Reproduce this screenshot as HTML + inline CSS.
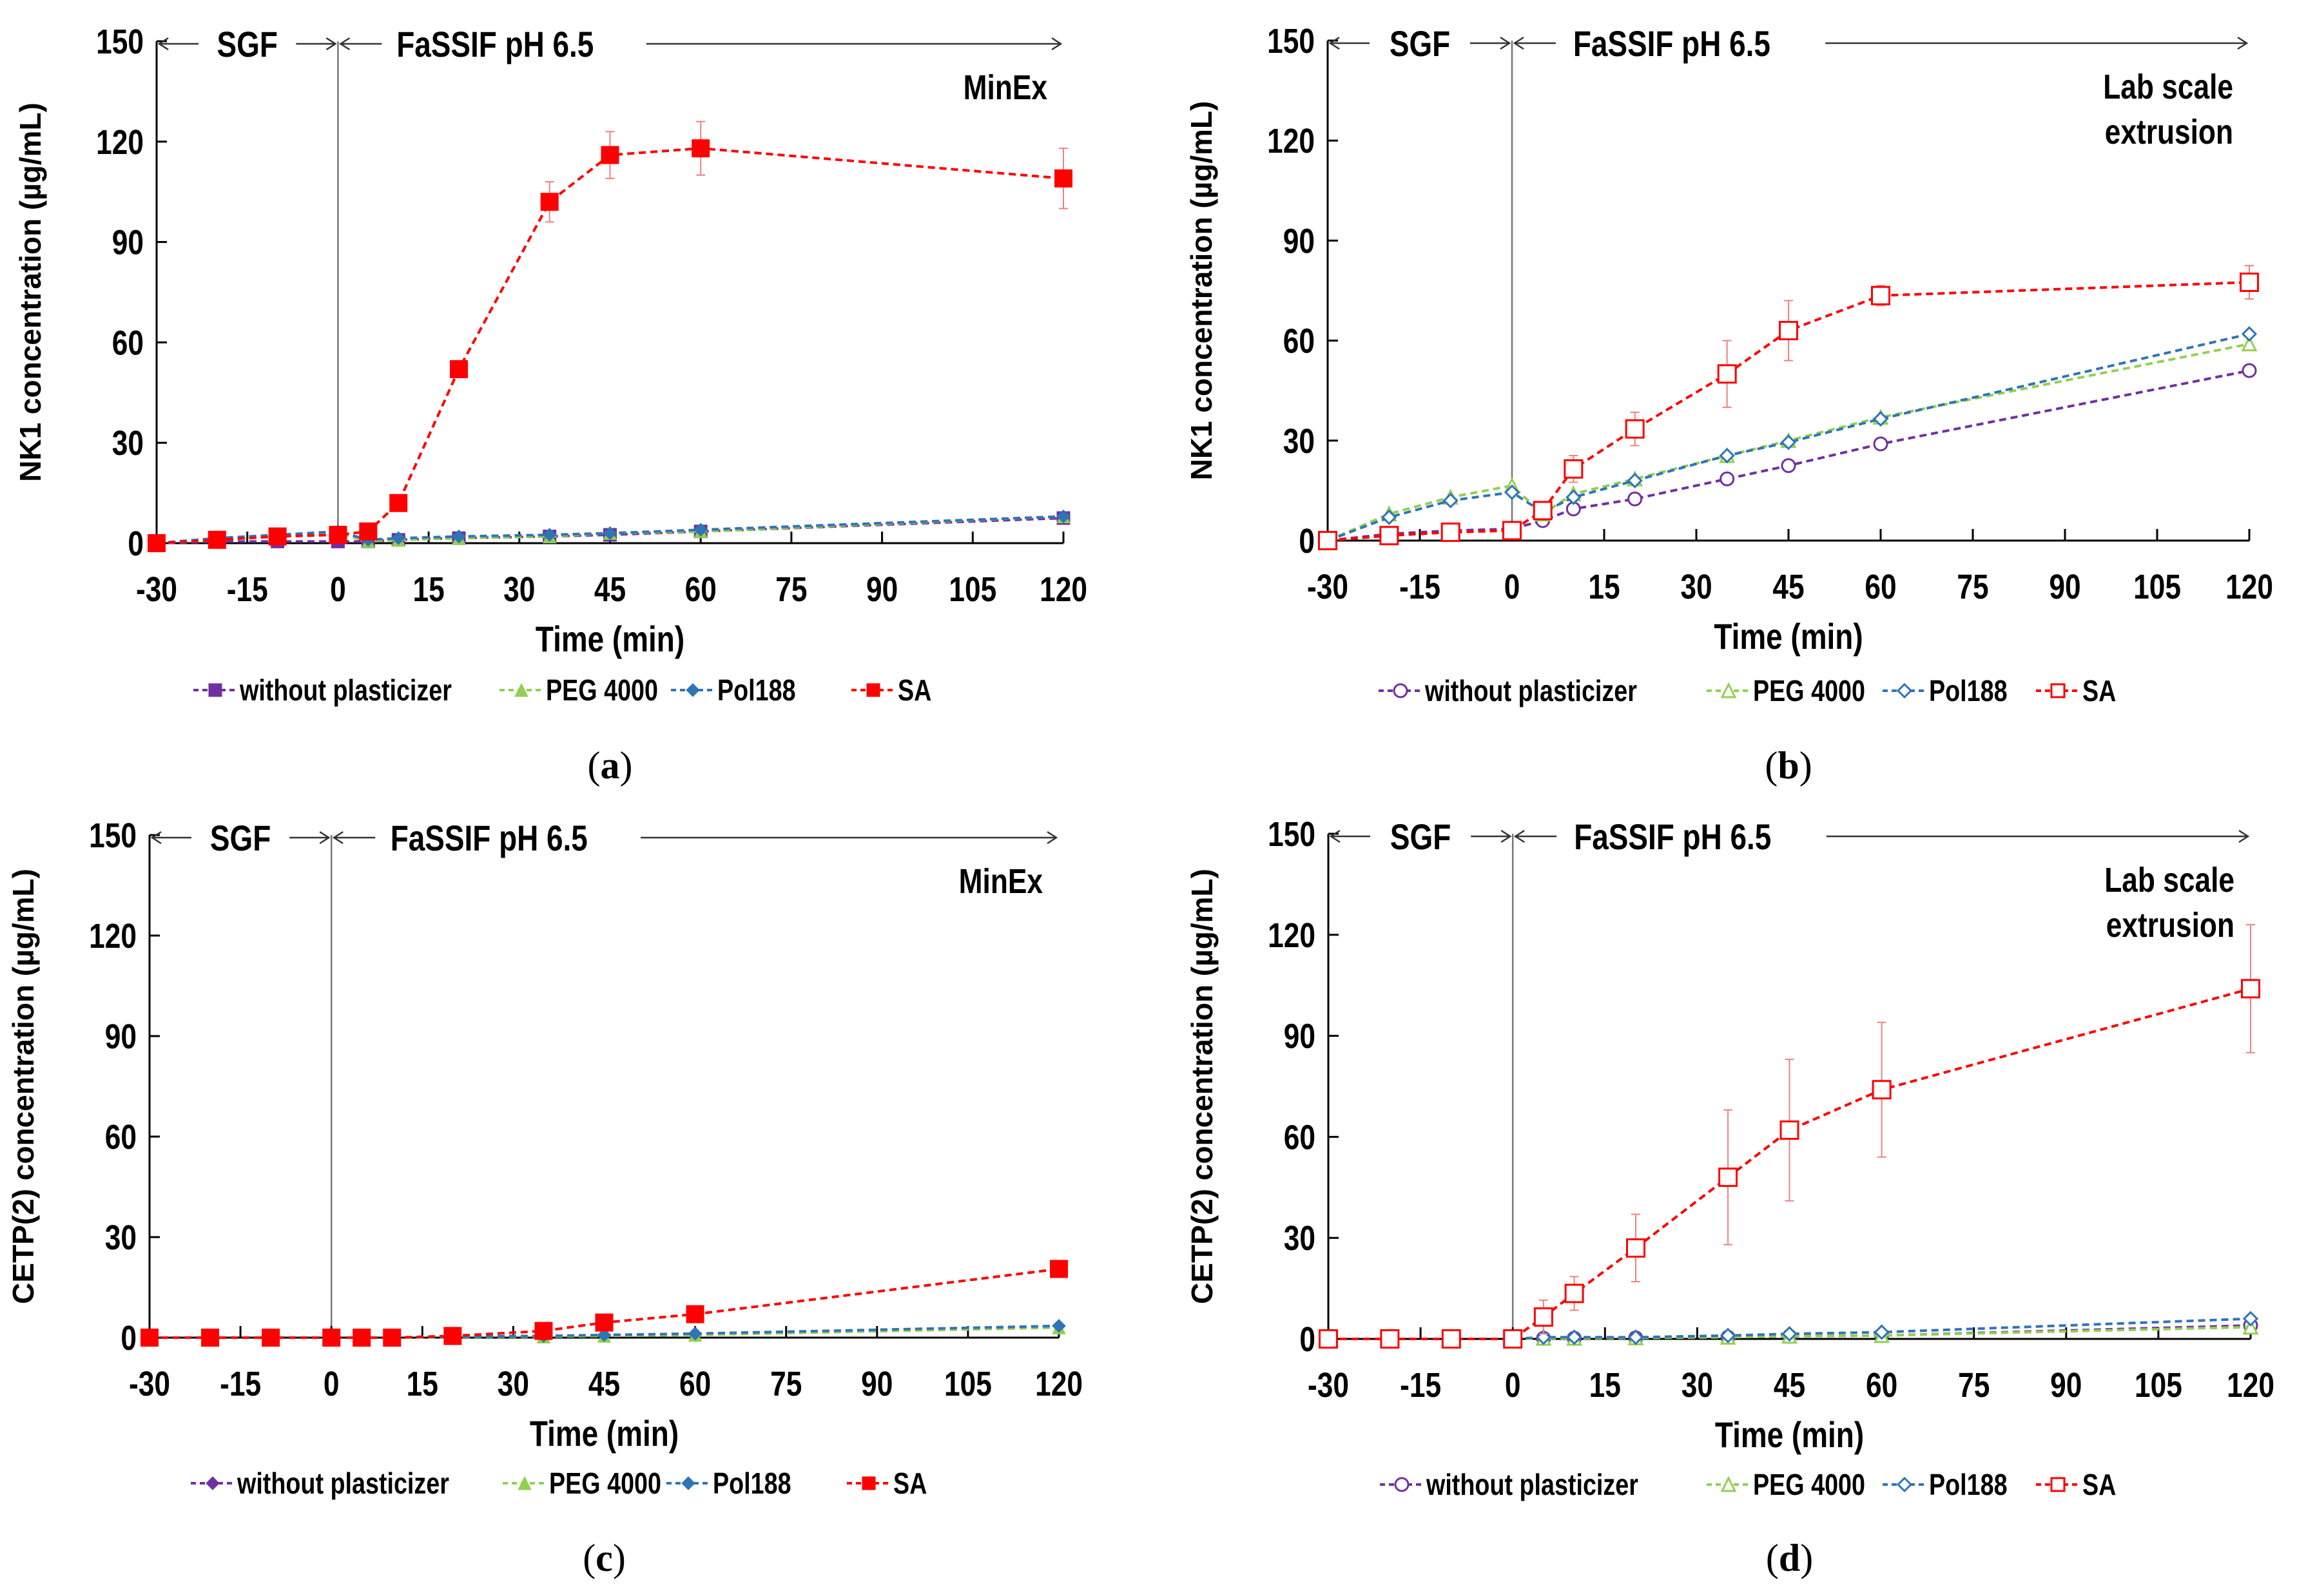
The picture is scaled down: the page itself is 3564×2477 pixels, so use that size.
<!DOCTYPE html>
<html><head><meta charset="utf-8">
<style>
html,body{margin:0;padding:0;background:#fff;}
svg{display:block;font-family:"Liberation Sans",sans-serif;}
</style></head>
<body>
<svg id="fig" width="3564" height="2477" viewBox="0 0 3564 2477" xmlns="http://www.w3.org/2000/svg"></svg>
<script>
const timePoints = [-30,-20,-10,0,5,10,20,35,45,60,120];
const xTicks = [-30,-15,0,15,30,45,60,75,90,105,120];
const yTicks = [0,30,60,90,120,150];
const seriesNames = ["without plasticizer","PEG 4000","Pol188","SA"];
const seriesColors = ["#7030A0","#92D050","#2E75B6","#FF0000"];

// Panel a: NK1, MinEx
const aWithout = [0,0.5,0.5,0.5,0.5,1,1.5,2,2.5,3.5,7.5];
const aPeg     = [0,1,2,3,0.5,1,1.5,2,3,3.5,8];
const aPol     = [0,1.5,2.5,3.5,1,1.5,2,2.5,3,4,8];
const aSA      = [0,1,2,2.5,3.5,12,52,102,116,118,109];
const aSAerr   = [0,0.5,0.5,0.5,0.5,1,1.5,6,7,8,9];
// Panel b: NK1, Lab scale
const bWithout = [0,2,3,3.5,6,9.5,12.5,18.5,22.5,29,51];
const bPeg     = [0,8,13,16.5,8,14,18.5,25.5,30,37,59];
const bPol     = [0,7,12,14.5,8.5,13,18,25.5,29.5,36.5,62];
const bSA      = [0,1.5,2.5,3,9,21.5,33.5,50,63,73.5,77.5];
const bSAerr   = [0,0.5,0.5,0.5,1,4,5,10,9,3,5];
// Panel c: CETP(2), MinEx
const cWithout = [0,0,0,0,0,0,0.3,0.5,0.7,1,3.5];
const cPeg     = [0,0,0,0,0,0,0.2,0.3,0.5,0.8,3];
const cPol     = [0,0,0,0,0,0,0.3,0.5,0.8,1.2,3.5];
const cSA      = [0,0,0,0,0,0,0.5,2,4.5,7,20.5];
const cSAerr   = [0,0,0,0,0,0,0.2,0.5,0.5,0.5,1];
// Panel d: CETP(2), Lab scale
const dWithout = [0,0,0,0,0.2,0.2,0.3,0.5,0.8,1,4];
const dPeg     = [0,0,0,0,0.2,0.2,0.3,0.5,0.8,1,3.5];
const dPol     = [0,0,0,0,0.5,0.5,0.5,1,1.5,2,6];
const dSA      = [0,0,0,0,6.5,13.5,27,48,62,74,104];
const dSAerr   = [0,0,0,0,5,5,10,20,21,20,19];

const NS="http://www.w3.org/2000/svg";
const svg=document.getElementById('fig');
function mk(tag,attrs,parent,text){const e=document.createElementNS(NS,tag);for(const k in attrs)e.setAttribute(k,attrs[k]);if(text!==undefined)e.textContent=text;(parent||svg).appendChild(e);return e;}
function txt(parent,x,y,str,size,anchor,sx,rot){
  const tr=`translate(${x},${y})`+(rot?` rotate(${rot})`:'')+` scale(${sx||0.82},1)`;
  return mk('text',{x:0,y:0,transform:tr,'text-anchor':anchor||'start','font-size':size,'font-weight':'bold'},parent,str);
}

function marker(g,shape,filled,color,cx,cy,s){
  const fill=filled?color:'#fff';const sw=filled?1:3;let m;
  if(shape==='square') m=mk('rect',{x:cx-s/2,y:cy-s/2,width:s,height:s,fill:fill,stroke:color,'stroke-width':sw},g);
  else if(shape==='circle') m=mk('circle',{cx:cx,cy:cy,r:s/2,fill:fill,stroke:color,'stroke-width':sw},g);
  else if(shape==='triangle') m=mk('polygon',{points:`${cx},${cy-s/2} ${cx+s/2},${cy+s/2} ${cx-s/2},${cy+s/2}`,fill:fill,stroke:color,'stroke-width':sw},g);
  else m=mk('polygon',{points:`${cx},${cy-s/2} ${cx+s/2},${cy} ${cx},${cy+s/2} ${cx-s/2},${cy}`,fill:fill,stroke:color,'stroke-width':sw},g);
  return m;
}

function panel(o){
  const g=mk('g',{},svg);
  
  
  const X=v=>o.x0+(v+30)/150*(o.x1-o.x0);
  const Y=v=>o.y0-v/150*(o.y0-o.y1);
  const ya=mk('line',{x1:X(-30),y1:Y(150),x2:X(-30),y2:Y(0),stroke:'#000','stroke-width':3},g);
  
  const xa=mk('line',{x1:X(-30),y1:Y(0),x2:X(120),y2:Y(0),stroke:'#000','stroke-width':3},g);
  
  const vl=mk('line',{x1:X(0),y1:Y(150),x2:X(0),y2:Y(0),stroke:'#777','stroke-width':2.5},g);
  
  yTicks.forEach(t=>{
    mk('line',{x1:X(-30),y1:Y(t),x2:X(-30)+16,y2:Y(t),stroke:'#000','stroke-width':3},g);
    const tl=txt(g,X(-30)-20,Y(t)+19,String(t),54,'end');
    
  });
  xTicks.forEach(t=>{
    mk('line',{x1:X(t),y1:Y(0),x2:X(t),y2:Y(0)-18,stroke:'#000','stroke-width':3},g);
    const tl=txt(g,X(t),Y(0)+90,String(t),54,'middle');
    
  });
  const xt=txt(g,(X(-30)+X(120))/2,Y(0)+168,'Time (min)',56,'middle');
  
  const cy=(Y(0)+Y(150))/2;
  const yt=mk('text',{x:0,y:0,transform:`translate(${X(-30)-180},${cy}) rotate(-90)`,'text-anchor':'middle','font-size':46,'font-weight':'bold'},g,o.ytitle);
  
  const hy=Y(150)+4;
  const hs=mk('g',{stroke:'#333','stroke-width':2.5,fill:'none'},g);
  
  const aw=(x,dir)=>mk('path',{d:`M${x+dir*14},${hy-9} L${x},${hy} L${x+dir*14},${hy+9}`},hs);
  mk('line',{x1:X(-30)+4,y1:hy,x2:X(-30)+65,y2:hy},hs);aw(X(-30)+4,1);
  mk('line',{x1:X(0)-65,y1:hy,x2:X(0)-4,y2:hy},hs);aw(X(0)-4,-1);
  mk('line',{x1:X(0)+4,y1:hy,x2:X(0)+68,y2:hy},hs);aw(X(0)+4,1);
  mk('line',{x1:X(51),y1:hy,x2:X(120)-4,y2:hy},hs);aw(X(120)-4,-1);
  const sg=txt(g,X(-15),hy+20,'SGF',56,'middle');
  
  const fs=txt(g,X(26),hy+20,'FaSSIF pH 6.5',56,'middle');
  
  o.note.forEach((ln,i)=>{
    const t=txt(g,X(120)-25,Y(150)+90+i*70,ln,54,'end');
    
  });
  o.series.forEach((vals,si)=>{
    const col=seriesColors[si];
    const sg2=mk('g',{},g);
    
    
    if(si===3){
      vals.forEach((v,i)=>{const e=o.err[i];if(e>1.5){
        mk('line',{x1:X(timePoints[i]),y1:Y(v-e),x2:X(timePoints[i]),y2:Y(v+e),stroke:'#f08080','stroke-width':2},sg2);
        mk('line',{x1:X(timePoints[i])-7,y1:Y(v+e),x2:X(timePoints[i])+7,y2:Y(v+e),stroke:'#f08080','stroke-width':2},sg2);
        mk('line',{x1:X(timePoints[i])-7,y1:Y(v-e),x2:X(timePoints[i])+7,y2:Y(v-e),stroke:'#f08080','stroke-width':2},sg2);}});
    }
    const pts=vals.map((v,i)=>X(timePoints[i])+','+Y(v)).join(' ');
    const pl=mk('polyline',{points:pts,fill:'none',stroke:col,'stroke-width':4,'stroke-dasharray':'11,7'},sg2);
    
    vals.forEach((v,i)=>{
      const m=marker(sg2,o.shapes[si],o.filled,col,X(timePoints[i]),Y(v),si===3?27:20);
      
      
    });
  });
  const lg=mk('g',{},g);
  
  o.legend.forEach((lx,si)=>{
    const eg=mk('g',{},lg);
    
    
    const ly=o.legY;
    mk('line',{x1:lx-34,y1:ly,x2:lx+34,y2:ly,stroke:seriesColors[si],'stroke-width':4,'stroke-dasharray':'8,6'},eg);
    marker(eg,o.shapes[si],o.filled,seriesColors[si],lx,ly,20);
    txt(eg,lx+38,ly+16,seriesNames[si],46,'start');
  });
  const cap=mk('text',{x:(X(-30)+X(120))/2,y:o.capY,'text-anchor':'middle','font-size':60,'font-family':'"Liberation Serif",serif'},g);
  
  mk('tspan',{},cap,'(');mk('tspan',{'font-weight':'bold'},cap,o.id);mk('tspan',{},cap,')');
}

panel({id:'a',x0:243,x1:1650,y0:843,y1:64,ytitle:'NK1 concentration (µg/mL)',note:['MinEx'],
  series:[aWithout,aPeg,aPol,aSA],err:aSAerr,shapes:['square','triangle','diamond','square'],filled:true,
  legend:[334,809,1075,1355],legY:1071,capY:1208});
panel({id:'b',x0:2060,x1:3490,y0:839,y1:63,ytitle:'NK1 concentration (µg/mL)',note:['Lab scale','extrusion'],
  series:[bWithout,bPeg,bPol,bSA],err:bSAerr,shapes:['circle','triangle','diamond','square'],filled:false,
  legend:[2173,2682,2955,3193],legY:1072,capY:1208});
panel({id:'c',x0:232,x1:1643,y0:2076,y1:1296,ytitle:'CETP(2) concentration (µg/mL)',note:['MinEx'],
  series:[cWithout,cPeg,cPol,cSA],err:cSAerr,shapes:['diamond','triangle','diamond','square'],filled:true,
  legend:[330,814,1068,1348],legY:2302,capY:2438});
panel({id:'d',x0:2061,x1:3492,y0:2078,y1:1294,ytitle:'CETP(2) concentration (µg/mL)',note:['Lab scale','extrusion'],
  series:[dWithout,dPeg,dPol,dSA],err:dSAerr,shapes:['circle','triangle','diamond','square'],filled:false,
  legend:[2175,2682,2955,3193],legY:2304,capY:2438});
</script>
</body></html>
